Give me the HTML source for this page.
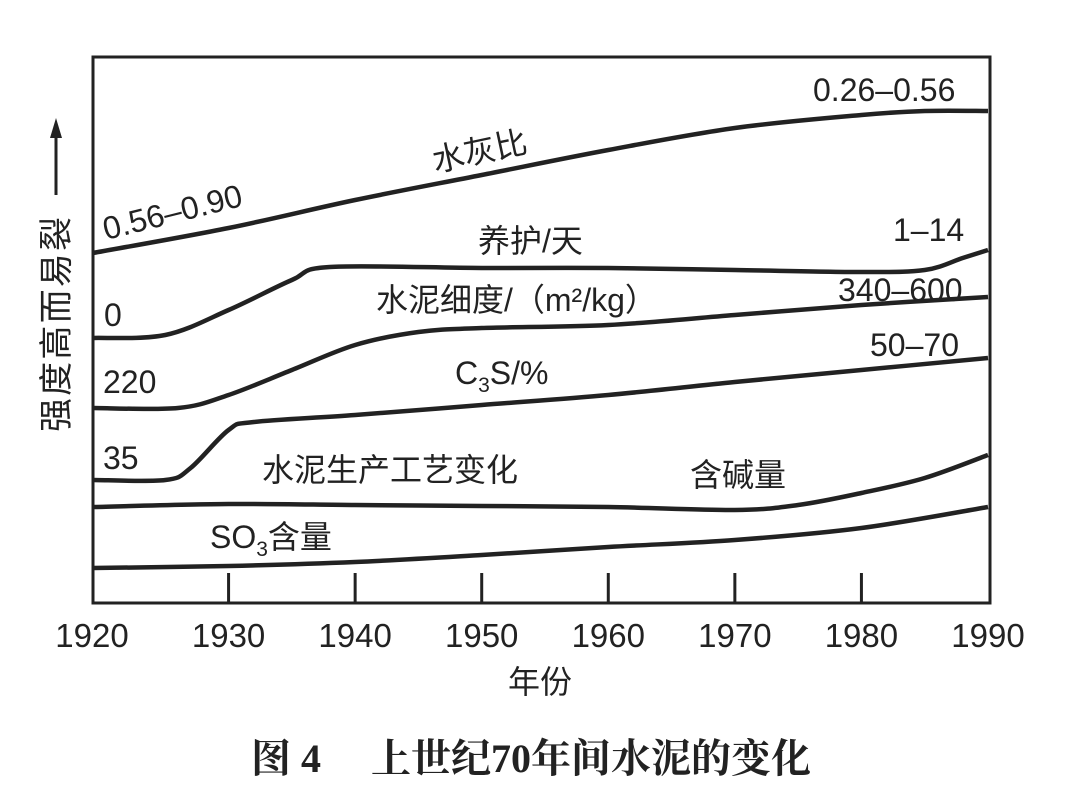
<!DOCTYPE html>
<html><head><meta charset="utf-8">
<style>
body{margin:0;background:#fff;}
svg{display:block;}
text{font-family:"Liberation Sans","Noto Sans CJK SC",sans-serif;fill:#222;}
</style></head>
<body>
<svg id="chart" width="1080" height="803" viewBox="0 0 1080 803">
<rect x="93" y="57" width="897" height="546" fill="none" stroke="#222" stroke-width="3"/>
<g id="ticks"></g>
<g id="curves"></g>
<g font-size="32">
<text x="813" y="101">0.26–0.56</text>
<text x="106" y="240" transform="rotate(-14 106 240)">0.56–0.90</text>
<text x="435" y="172" transform="rotate(-12 435 172)">水灰比</text>
<text x="478" y="252">养护/天</text>
<text x="893" y="241">1–14</text>
<text x="104" y="326">0</text>
<text x="376" y="311">水泥细度/（m²/kg）</text>
<text x="838" y="301">340–600</text>
<text x="103" y="393">220</text>
<text x="455" y="384">C<tspan font-size="21" dy="8">3</tspan><tspan dy="-8">S/%</tspan></text>
<text x="870" y="356">50–70</text>
<text x="103" y="469">35</text>
<text x="262" y="481">水泥生产工艺变化</text>
<text x="690" y="486">含碱量</text>
<text x="210" y="548">SO<tspan font-size="21" dy="8">3</tspan><tspan dy="-8">含量</tspan></text>
</g>
<g>
<text x="0" y="0" font-size="34" textLength="215" transform="translate(68 432) rotate(-90)">强度高而易裂</text>
<line x1="56" y1="195" x2="56" y2="128" stroke="#222" stroke-width="3"/>
<polygon points="56,118 50,138 62,138" fill="#222"/>
</g>
<text x="540" y="693" font-size="32" text-anchor="middle">年份</text>
<text x="531" y="772" font-size="40" font-weight="bold" text-anchor="middle" style="font-family:'Liberation Serif','Noto Serif CJK SC',serif">图 4　 上世纪70年间水泥的变化</text>
</svg>
<script>
const tickYears=[1920,1930,1940,1950,1960,1970,1980,1990];
const wcYears=[1920,1930,1940,1950,1960,1970,1980,1985,1990];
const wcVals=[350,375,403,428,453,475,488,492,492];
const curYears=[1920,1925,1930,1935,1938,1950,1960,1970,1980,1985,1988,1990];
const curVals=[265,268,293,323,336,335,335,333,331,333,345,353];
const finYears=[1920,1926,1930,1935,1940,1945,1950,1960,1970,1980,1990];
const finVals=[195,195,208,233,258,271,275,278,288,298,306];
const c3sYears=[1920,1925,1927,1930,1932,1940,1950,1960,1970,1980,1990];
const c3sVals=[123,123,135,173,181,188,198,208,221,233,245];
const alkYears=[1920,1930,1940,1950,1960,1970,1975,1980,1985,1990];
const alkVals=[96,99,98,97,96,93,98,110,125,148];
const so3Years=[1920,1930,1940,1950,1960,1970,1980,1990];
const so3Vals=[35,37,41,48,56,63,75,96];
const NS="http://www.w3.org/2000/svg";
function xs(y){return 102+(y-1920)*(988-102)/70;}
function ys(v){return 603-v;}
const tg=document.getElementById('ticks');
tickYears.forEach(y=>{
 if(y>1920&&y<1990){const l=document.createElementNS(NS,'line');
 l.setAttribute('x1',xs(y));l.setAttribute('x2',xs(y));l.setAttribute('y1',573);l.setAttribute('y2',603);
 l.setAttribute('stroke','#222');l.setAttribute('stroke-width','3');
 
 
 tg.appendChild(l);}
 const t=document.createElementNS(NS,'text');
 t.setAttribute('x',xs(y)-(y==1920?10:0));t.setAttribute('y',647);t.setAttribute('font-size','33');t.setAttribute('text-anchor','middle');
 t.textContent=y;
 
 
 tg.appendChild(t);
});
const cg=document.getElementById('curves');
function draw(xsA,vs,name){
 const pts=xsA.map((y,i)=>[(y==1920?93:xs(y)),ys(vs[i])]);
 let d='M'+pts[0][0]+','+pts[0][1];
 for(let i=1;i<pts.length;i++){
  const p0=pts[Math.max(0,i-2)],p1=pts[i-1],p2=pts[i],p3=pts[Math.min(pts.length-1,i+1)];
  const c1x=p1[0]+(p2[0]-p0[0])/6,c1y=p1[1]+(p2[1]-p0[1])/6;
  const c2x=p2[0]-(p3[0]-p1[0])/6,c2y=p2[1]-(p3[1]-p1[1])/6;
  d+=' C'+c1x+','+c1y+' '+c2x+','+c2y+' '+p2[0]+','+p2[1];
 }
 const p=document.createElementNS(NS,'path');
 p.setAttribute('d',d);
 p.setAttribute('fill','none');p.setAttribute('stroke','#222');p.setAttribute('stroke-width','4.5');p.setAttribute('stroke-linejoin','round');
 
 
 cg.appendChild(p);
}
draw(wcYears,wcVals,'line-water-cement');
draw(curYears,curVals,'line-curing');
draw(finYears,finVals,'line-fineness');
draw(c3sYears,c3sVals,'line-c3s');
draw(alkYears,alkVals,'line-alkali');
draw(so3Years,so3Vals,'line-so3');
</script>
</body></html>
